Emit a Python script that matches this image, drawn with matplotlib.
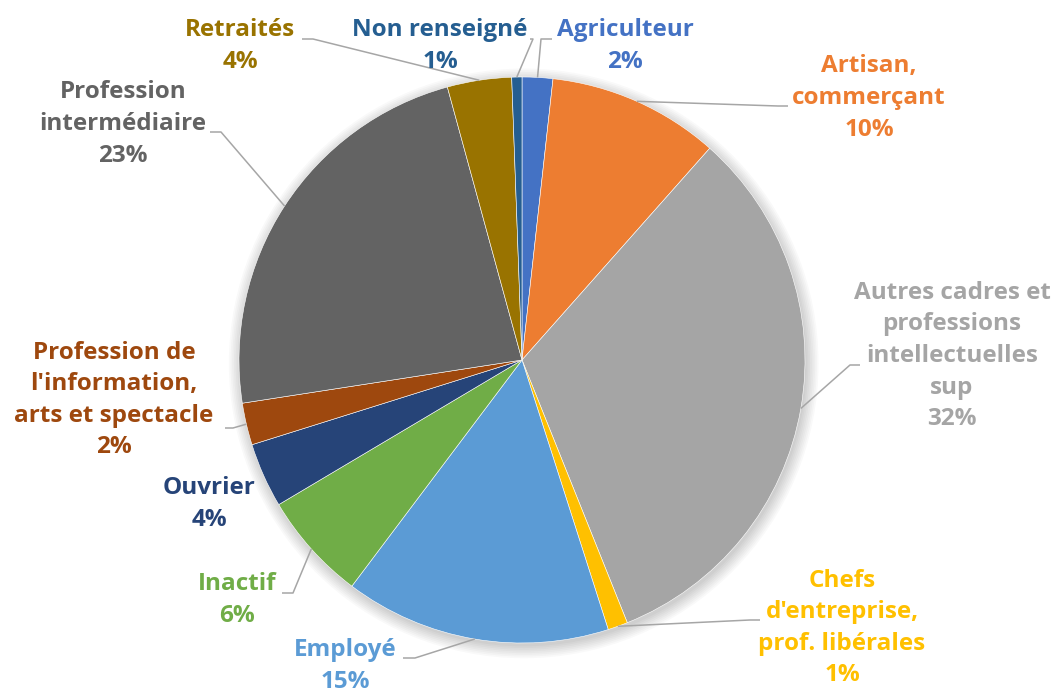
import matplotlib.pyplot as plt
import matplotlib.patches as mpatches
import numpy as np

# data
categories = ["Agriculteur", "Artisan,\ncommerçant", "Autres cadres et\nprofessions\nintellectuelles\nsup",
              "Chefs\nd'entreprise,\nprof. libérales", "Employé", "Inactif", "Ouvrier",
              "Profession de\nl'information,\narts et spectacle", "Profession\nintermédiaire",
              "Retraités", "Non renseigné"]
shares = [1.75, 9.8, 32.4, 1.14, 15.2, 6.2, 3.7, 2.4, 23.2, 3.67, 0.58]
colors = ["#4472C4", "#ED7D31", "#A5A5A5", "#FFC000", "#5B9BD5", "#70AD47",
          "#264478", "#9E480E", "#636363", "#997300", "#255E91"]

# layout (pixels of the 1059x693 picture)
W, H = 1059, 693
CX, CY, R = 522, 360, 283
# label centre, elbow of leader, end of leader stub (None = no leader)
label_pos = [(625, 46), (869, 98), (952, 356), (842, 628), (345, 666), (237, 600),
             (209, 504), (114, 400), (123, 124), (240, 46), (440, 46)]
elbows = [(541, 39), (778, 106), (850, 365), (750, 620), (415, 658), (293, 593),
          None, (233, 428), (221, 132), (313, 39), (533, 39)]
stub_ends = [(552, 39), (788, 106), (860, 365), (760, 620), (403, 658), (282, 593),
             None, (225, 428), (210, 132), (302, 39), (530, 39)]

FONT = ["Open Sans", "DejaVu Sans"]


def px(x, y):
    return (x - CX) / R, (CY - y) / R


fig = plt.figure(figsize=(W / 100, H / 100), dpi=100)
ax = fig.add_axes([0, 0, 1, 1])

# soft shadow under the pie
for k in range(8):
    ax.add_patch(mpatches.Circle((0.006, -0.012), 1.0 + 0.006 * k, color="black",
                                 alpha=0.025, lw=0, zorder=0))

wedges, _ = ax.pie(shares, colors=colors, startangle=90, counterclock=False, radius=1,
                   wedgeprops=dict(edgecolor="white", linewidth=0.4))
for w in wedges:
    w.set_zorder(2)

for i, (w, name, val) in enumerate(zip(wedges, categories, shares)):
    lx, ly = px(*label_pos[i])
    ax.text(lx, ly, f"{name}\n{val:.0f}%", ha="center", va="center", color=colors[i],
            fontsize=17.5, fontweight="bold", family=FONT, linespacing=1.42, zorder=4)
    if elbows[i] is None:
        continue
    mid = np.deg2rad((w.theta1 + w.theta2) / 2)
    sx, sy = np.cos(mid), np.sin(mid)
    ex, ey = px(*elbows[i])
    tx, ty = px(*stub_ends[i])
    ax.plot([sx, ex, tx], [sy, ey, ty], color="#A6A6A6", lw=1.1, zorder=3,
            solid_capstyle="butt")

ax.set_xlim(-CX / R, (W - CX) / R)
ax.set_ylim(-(H - CY) / R, CY / R)
ax.set_aspect("auto")
ax.axis("off")

plt.savefig("out.png", dpi=100, facecolor="white")
plt.close()
